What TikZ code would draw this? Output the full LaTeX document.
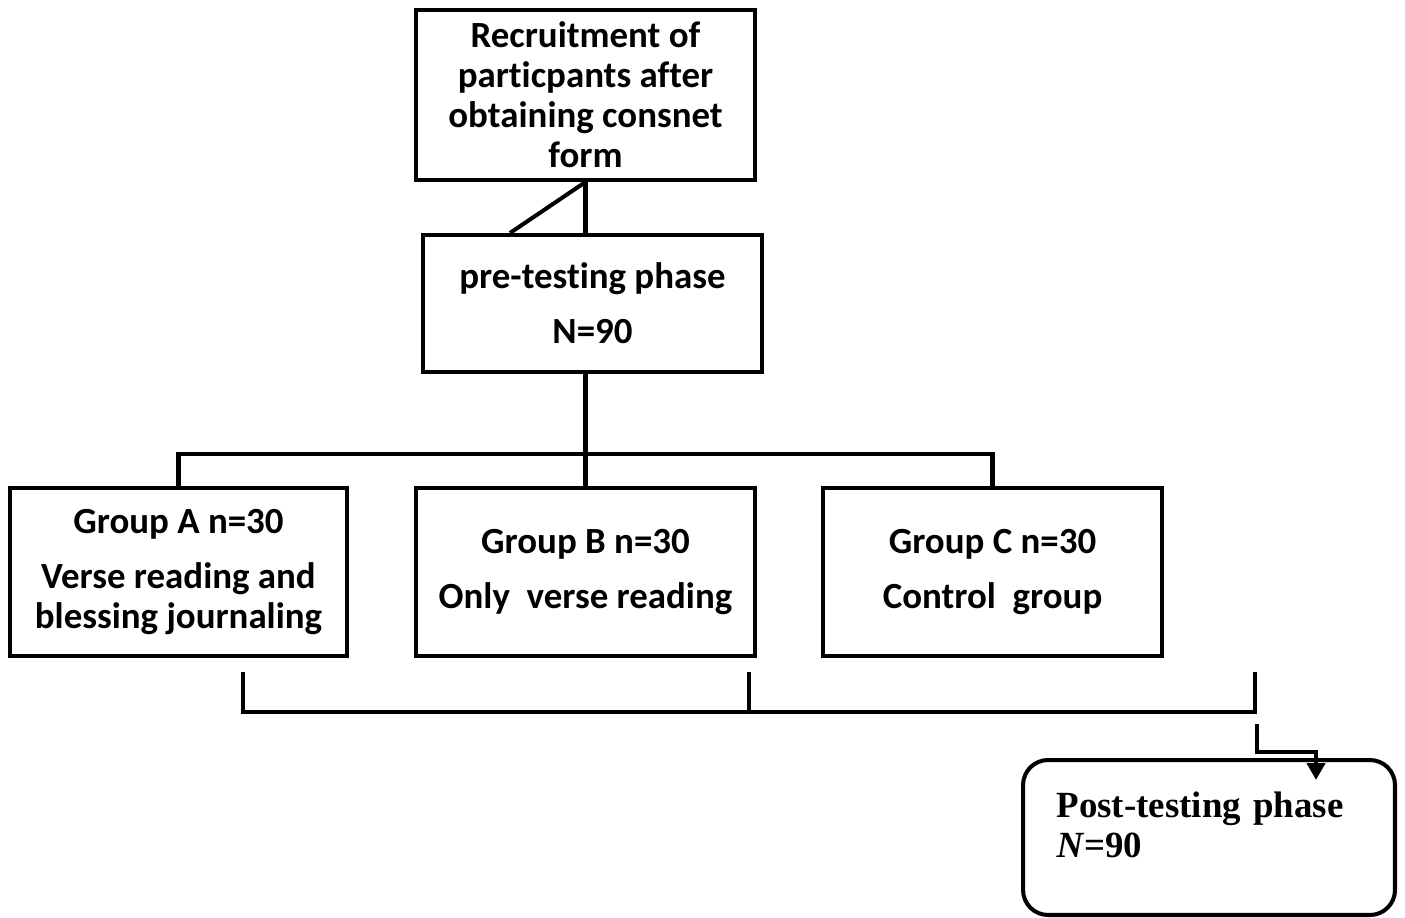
\documentclass[tikz,border=0pt]{standalone}
\usepackage{fontspec}
\setmainfont[Ligatures=NoCommon]{Carlito}
\newfontfamily\postfont{Liberation Serif}
\usetikzlibrary{positioning,calc,arrows.meta}

\begin{document}
\begin{tikzpicture}[x=0.02cm,y=-0.02cm,
  box/.style={draw,line width=2.3pt,minimum width=6.78cm,inner sep=0pt,
    align=center,font=\fontsize{21}{22.8}\selectfont\bfseries},
  postbox/.style={draw,line width=2.3pt,rounded corners=0.5cm,minimum width=7.44cm,
    minimum height=3.1cm,text width=6.1cm,inner xsep=0.67cm,align=left,
    font=\postfont\fontsize{21}{22.8}\selectfont\bfseries},
  link/.style={line width=2.3pt},
  bracket/.style={line width=2.8pt}]
  \useasboundingbox (0,0) rectangle (1405,918);
  % boxes
  \node[box,minimum height=3.4cm] (recruit) at (585.5,95)
    {Recruitment of\\particpants after\\obtaining consnet\\form};
  \node[box,minimum height=2.74cm] (pretest) at (592.5,303.5)
    {pre-testing phase\\[0.3cm]N=90};
  \node[box,minimum width=6.74cm,minimum height=3.36cm] (grpA) at (178.5,572)
    {Group A n=30\\[0.3cm]Verse reading and\\blessing journaling};
  \node[box,minimum height=3.36cm] (grpB) at (585.5,572)
    {Group B n=30\\[0.3cm]Only\ \ verse reading};
  \node[box,minimum height=3.36cm] (grpC) at (992.5,572)
    {Group C n=30\\[0.3cm]Control\ \ group};
  \node[postbox,text depth=1.3cm] (post) at (1209,837.5)
    {Post-testing phase\\\textit{N}=90};
  % connectors
  \draw[link] (recruit.south) -- (recruit.south |- pretest.north);
  \draw[link] (recruit.south) -- ($(pretest.north west)+(89,0)$);
  \draw[link] (pretest.south -| grpB.north) -- (grpB.north);
  \draw[link] (grpA.north) -- ++(0,-32) -| (grpC.north);
  \coordinate (brA) at ($(grpA.south)+(64.5,14)$);
  \coordinate (brB) at ($(grpB.south)+(163.5,14)$);
  \coordinate (brC) at ($(grpC.south)+(262.5,14)$);
  \draw[bracket] (brA) -- ++(0,40) -| (brC);
  \draw[bracket] (brB) -- ++(0,40);
  \coordinate (arr) at ($(brC)+(2,52)$);
  \draw[bracket,-{Triangle[length=0.34cm,width=0.36cm]}] (arr) -- ++(0,28)
    -| ($(post.north west)+(295,22)$);
\end{tikzpicture}
\end{document}
